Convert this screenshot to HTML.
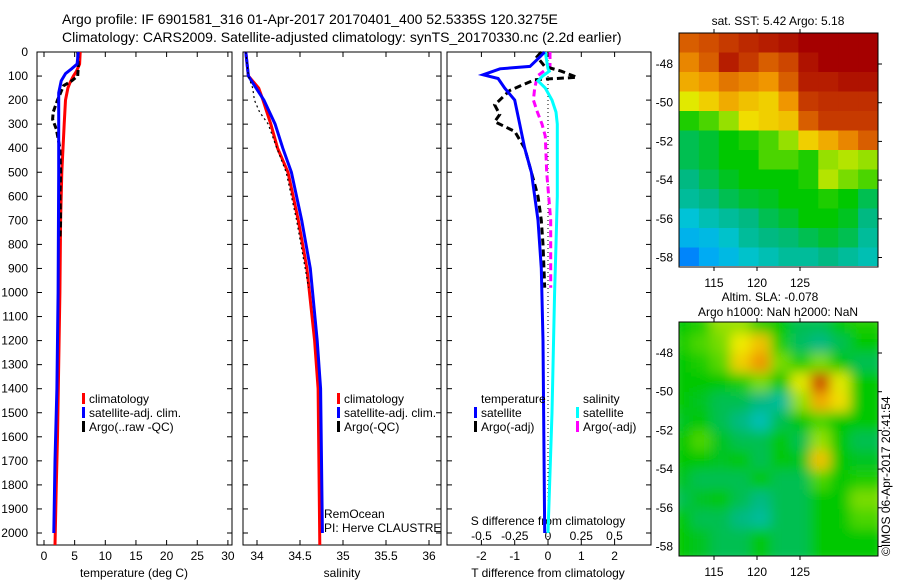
<!DOCTYPE html>
<html><head><meta charset="utf-8">
<style>
body{margin:0;background:#fff;}
svg{display:block;font-family:"Liberation Sans",sans-serif;}
text{font-size:12px;fill:#000;}
</style></head>
<body>
<svg id="s" width="900" height="580" viewBox="0 0 900 580">
<defs>
<filter id="blur" x="0" y="0" width="1" height="1"><feGaussianBlur stdDeviation="6"/></filter>
<clipPath id="clipSla"><rect x="679" y="322" width="199" height="234"/></clipPath>
<clipPath id="clipSst"><rect x="679" y="33" width="199" height="233"/></clipPath>
</defs>
<text x="62" y="24" style="font-size:14px">Argo profile: IF 6901581_316 01-Apr-2017 20170401_400 52.5335S 120.3275E</text>
<text x="62" y="42" style="font-size:14px">Climatology: CARS2009. Satellite-adjusted climatology: synTS_20170330.nc (2.2d earlier)</text>
<g id="g"></g>
</svg>
<script>
// ---- data ----
const tClimDepth=[0,50,80,100,130,150,200,300,400,500,700,1000,1300,1600,1800,2050];
const tClimVal=[5.9,5.8,5.3,4.8,4.2,3.9,3.5,3.3,3.1,2.9,2.7,2.6,2.4,2.2,2.0,1.8];
const tSatDepth=[0,50,70,90,120,170,300,500,1000,1400,1700,2000];
const tSatVal=[5.6,5.4,4.5,3.5,2.8,2.4,2.4,2.4,2.3,2.1,1.8,1.6];
const tArgoDepth=[0,60,100,120,140,200,250,280,320,400,500,600,700,780];
const tArgoVal=[5.5,5.6,5.5,4.5,3.2,2.2,1.5,1.4,2.0,2.6,2.7,2.6,2.7,2.6];
const sClimDepth=[0,100,150,200,300,400,500,700,900,1200,1400,2050];
const sClimVal=[33.87,33.9,34.02,34.07,34.16,34.24,34.36,34.48,34.58,34.67,34.71,34.73];
const sSatDepth=[0,100,150,200,300,400,500,700,900,1200,1400,2000];
const sSatVal=[33.87,33.9,33.99,34.08,34.21,34.3,34.4,34.52,34.62,34.7,34.74,34.76];
const sArgoDepth=[0,100,150,200,250,300,400,500,700,900,980];
const sArgoVal=[33.87,33.9,33.95,33.97,34.03,34.13,34.23,34.34,34.46,34.56,34.6];
const dTSatDepth=[0,20,60,70,95,110,150,200,300,400,500,600,700,900,1200,2000];
const dTSatVal=[-0.1,-0.24,-0.54,-1.44,-1.95,-1.5,-1.3,-1.0,-0.85,-0.7,-0.5,-0.4,-0.3,-0.2,-0.15,-0.1];
const dTArgoDepth=[0,20,60,80,105,115,160,220,260,290,330,400,500,600,700,800,980];
const dTArgoVal=[-0.2,-0.33,-0.1,0.4,0.87,-0.4,-1.15,-1.6,-1.45,-1.6,-1.0,-0.7,-0.5,-0.3,-0.2,-0.15,-0.1];
const dSSatDepth=[0,70,80,100,120,150,200,250,300,600,800,1000,1500,2000];
const dSSatVal=[-0.02,0,0.01,-0.04,-0.075,-0.02,0.03,0.06,0.07,0.07,0.06,0.05,0.03,0.0];
const dSArgoDepth=[0,60,100,150,200,250,300,350,500,700,900,980];
const dSArgoVal=[0.015,0.015,-0.08,-0.1,-0.11,-0.08,-0.045,-0.02,-0.01,0.02,0.02,0.02];
const depthTicks=[0,100,200,300,400,500,600,700,800,900,1000,1100,1200,1300,1400,1500,1600,1700,1800,1900,2000];
const tTicks=[0,5,10,15,20,25,30];
const sTicks=[34,34.5,35,35.5,36];
const dTTicks=[-2,-1,0,1,2];
const dSTicks=[-0.5,-0.25,0,0.25,0.5];
const dSTickLabels=["-0.5","-0.25","0","0.25","0.5"];
const latTicks=[-48,-50,-52,-54,-56,-58];
const lonTicks=[115,120,125];
const sstGrid=[
[.85,.87,.9,.93,.95,.97,1,1,1,1],
[.8,.85,.95,.9,.85,.88,.97,1,1,1],
[.75,.78,.82,.8,.78,.85,.95,.95,.97,.97],
[.65,.7,.75,.72,.7,.78,.9,.92,.92,.92],
[.52,.55,.6,.68,.7,.72,.85,.9,.9,.9],
[.45,.47,.5,.52,.55,.6,.7,.75,.8,.85],
[.45,.47,.5,.5,.55,.55,.52,.6,.62,.6],
[.42,.45,.48,.5,.5,.5,.52,.62,.58,.55],
[.4,.42,.45,.47,.48,.5,.5,.52,.5,.45],
[.35,.38,.4,.42,.45,.47,.5,.5,.48,.42],
[.3,.32,.36,.4,.42,.43,.45,.47,.45,.4],
[.22,.28,.32,.36,.38,.4,.4,.42,.4,.38]];
const slaGrid=[
[.5,.52,.6,.6,.52,.5,.45,.45,.5,.52],
[.52,.55,.58,.66,.72,.52,.44,.42,.45,.5],
[.5,.52,.56,.7,.78,.58,.52,.58,.5,.45],
[.5,.5,.5,.52,.58,.5,.65,.88,.65,.5],
[.5,.48,.45,.45,.42,.4,.6,.75,.68,.5],
[.48,.5,.45,.42,.38,.45,.5,.55,.5,.5],
[.5,.55,.48,.45,.45,.5,.45,.6,.5,.45],
[.5,.5,.48,.5,.45,.5,.48,.72,.5,.48],
[.48,.45,.45,.45,.5,.45,.45,.55,.5,.52],
[.45,.48,.5,.45,.42,.45,.45,.5,.5,.58],
[.5,.45,.45,.42,.4,.45,.45,.5,.5,.55],
[.5,.48,.45,.45,.5,.45,.45,.5,.5,.5]];

const NS='http://www.w3.org/2000/svg';
const G=document.getElementById('g');
function mk(tag,attrs,parent){const e=document.createElementNS(NS,tag);for(const k in attrs)e.setAttribute(k,attrs[k]);(parent||G).appendChild(e);return e;}
const yD=d=>52+d*0.2405;
function txt(x,y,s,anchor,name,size){const t=mk('text',{x:x,y:y,'text-anchor':anchor||'start'});if(size)t.style.fontSize=size+'px';t.textContent=s;

return t;}
function frame(x0,x1,name){const r=mk('rect',{x:x0,y:52,width:x1-x0,height:493,fill:'none',stroke:'#000','stroke-width':1});

}
function line(depths,vals,xf,color,w,dash,name){const pts=depths.map((d,i)=>xf(vals[i]).toFixed(1)+','+yD(d).toFixed(1)).join(' ');
const p=mk('polyline',{points:pts,fill:'none',stroke:color,'stroke-width':w});if(dash)p.setAttribute('stroke-dasharray',dash);

}
function xticks(ticks,labels,xf,y,name){ticks.forEach((t,i)=>{const x=xf(t);mk('line',{x1:x,y1:545,x2:x,y2:540,stroke:'#000'});mk('line',{x1:x,y1:52,x2:x,y2:57,stroke:'#000'});txt(x,y,labels?labels[i]:String(t),'middle',name);});}
function legendItem(x,y,color,label,name){const r=mk('rect',{x:x,y:y-10,width:3,height:11,fill:color});


txt(x+7,y,label,'start',name);}

// Panel 1 temperature
const xT=v=>44+v*6.13;
frame(37,232,'temperature-panel');
depthTicks.forEach(d=>{mk('line',{x1:37,y1:yD(d),x2:42,y2:yD(d),stroke:'#000'});mk('line',{x1:232,y1:yD(d),x2:227,y2:yD(d),stroke:'#000'});txt(28,yD(d)+4,String(d),'end','depth-tick-label');});
xticks(tTicks,null,xT,560,'temperature-tick-label');
line(tClimDepth,tClimVal,xT,'#f00',3,null,'temperature-climatology-line');
line(tArgoDepth,tArgoVal,xT,'#000',3,'6,3','temperature-argo-line');
line(tSatDepth,tSatVal,xT,'#00f',3,null,'temperature-satellite-line');
txt(134,577,'temperature (deg C)','middle','temperature-axis-title');
legendItem(82,403,'#f00','climatology','legend-climatology');
legendItem(82,417,'#00f','satellite-adj. clim.','legend-satellite-adj');
legendItem(82,431,'#000','Argo(..raw -QC)','legend-argo');

// Panel 2 salinity
const xS=v=>257+(v-34)*86;
frame(243,441,'salinity-panel');
depthTicks.forEach(d=>{mk('line',{x1:243,y1:yD(d),x2:248,y2:yD(d),stroke:'#000'});mk('line',{x1:441,y1:yD(d),x2:436,y2:yD(d),stroke:'#000'});});
xticks(sTicks,null,xS,560,'salinity-tick-label');
line(sClimDepth,sClimVal,xS,'#f00',3,null,'salinity-climatology-line');
line(sSatDepth,sSatVal,xS,'#00f',3,null,'salinity-satellite-line');
line(sArgoDepth,sArgoVal,xS,'#000',1.2,'2,3','salinity-argo-line');
txt(342,577,'salinity','middle','salinity-axis-title');
legendItem(337,403,'#f00','climatology','legend-climatology-2');
legendItem(337,417,'#00f','satellite-adj. clim.','legend-satellite-adj-2');
legendItem(337,431,'#000','Argo(-QC)','legend-argo-2');
txt(324,518,'RemOcean','start','project-label');
txt(324,532,'PI: Herve CLAUSTRE','start','pi-label');

// Panel 3 differences
const xDT=v=>548+v*33.3;
const xDS=v=>548+v*133;
frame(447,651,'difference-panel');
depthTicks.forEach(d=>{mk('line',{x1:447,y1:yD(d),x2:452,y2:yD(d),stroke:'#000'});mk('line',{x1:651,y1:yD(d),x2:646,y2:yD(d),stroke:'#000'});});
xticks(dTTicks,null,xDT,560,'t-difference-tick-label');
dSTicks.forEach((t,i)=>txt(xDS(t),540,dSTickLabels[i],'middle','s-difference-tick-label'));
txt(548,525,'S difference from climatology','middle','s-difference-axis-title');
txt(548,577,'T difference from climatology','middle','t-difference-axis-title');
const z=mk('line',{x1:548,y1:52,x2:548,y2:545,stroke:'#000','stroke-width':1,'stroke-dasharray':'1,3'});


line(dSArgoDepth,dSArgoVal,xDS,'#f0f',3,'7,4','salinity-argo-diff-line');
line(dTArgoDepth,dTArgoVal,xDT,'#000',3,'7,4','temperature-argo-diff-line');
line(dSSatDepth,dSSatVal,xDS,'#0ff',3,null,'salinity-satellite-diff-line');
line(dTSatDepth,dTSatVal,xDT,'#00f',3,null,'temperature-satellite-diff-line');
txt(481,403,'temperature','start','legend-temperature-heading');
legendItem(474,417,'#00f','satellite','legend-t-satellite');
legendItem(474,431,'#000','Argo(-adj)','legend-t-argo');
txt(583,403,'salinity','start','legend-salinity-heading');
legendItem(576,417,'#0ff','satellite','legend-s-satellite');
legendItem(576,431,'#f0f','Argo(-adj)','legend-s-argo');

// Maps
const cmapStops=[[0,0,0,160],[0.15,0,70,240],[0.25,0,160,255],[0.35,0,195,215],[0.42,0,185,130],[0.5,0,200,0],[0.58,120,220,0],[0.66,240,235,0],[0.78,240,150,0],[0.88,205,70,0],[1,165,0,0]];
function cmap(v){v=Math.max(0,Math.min(1,v));for(let i=1;i<cmapStops.length;i++){const a=cmapStops[i-1],b=cmapStops[i];if(v<=b[0]){const t=(v-a[0])/(b[0]-a[0]);
return 'rgb('+[1,2,3].map(k=>Math.round(a[k]+(b[k]-a[k])*t)).join(',')+')';}}return 'rgb(165,0,0)';}
function mapPanel(grid,top,clip,blur,name){
const grp=mk('g',{'clip-path':'url(#'+clip+')'});
const inner=mk('g',blur?{filter:'url(#blur)'}:{},grp);
const rows=grid.length,cols=grid[0].length,w=199/cols,h=234/rows;
grid.forEach((row,ri)=>row.forEach((v,ci)=>{const r=mk('rect',{x:(679+ci*w-(blur?8:0)).toFixed(1),y:(top+ri*h-(blur?8:0)).toFixed(1),width:(w+(blur?16:0.5)).toFixed(1),height:(h+(blur?16:0.5)).toFixed(1),fill:cmap(v)},inner);

}));
const f=mk('rect',{x:679,y:top,width:199,height:234,fill:'none',stroke:'#000'});


const yL=l=>top+31+(-48-l)*19.35;
latTicks.forEach(l=>{mk('line',{x1:878,y1:yL(l),x2:882,y2:yL(l),stroke:'#000'});txt(673,yL(l)+4,String(l),'end',name+'-lat-label');});
const xL=l=>714+(l-115)*8.6;
lonTicks.forEach(l=>{mk('line',{x1:xL(l),y1:top,x2:xL(l),y2:top-4,stroke:'#000'});mk('line',{x1:xL(l),y1:top+234,x2:xL(l),y2:top+238,stroke:'#000'});txt(xL(l),top+254,String(l),'middle',name+'-lon-label');});}
mapPanel(sstGrid,33,'clipSst',false,'sst-map');
mapPanel(slaGrid,322,'clipSla',true,'sla-map');
txt(778,25,'sat. SST: 5.42 Argo: 5.18','middle','sst-map-title');
txt(770,301,'Altim. SLA: -0.078','middle','sla-map-title');
txt(778,316,'Argo h1000: NaN h2000: NaN','middle','sla-map-subtitle');
const c=txt(0,0,'\u00A9IMOS 06-Apr-2017 20:41:54','start','timestamp-label');
c.setAttribute('transform','translate(890,556) rotate(-90)');
</script>
</body></html>
